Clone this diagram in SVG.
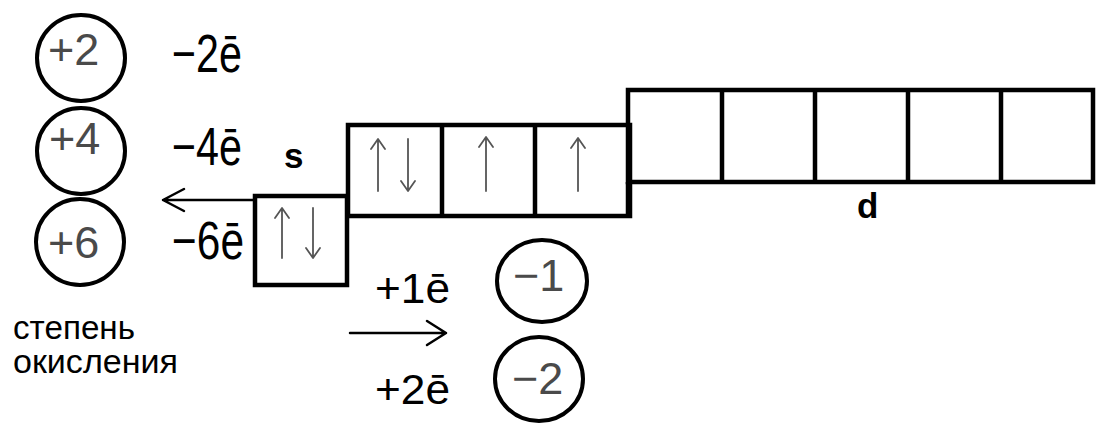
<svg xmlns="http://www.w3.org/2000/svg" width="1109" height="442" viewBox="0 0 1109 442">
<style>
.box{fill:none;stroke:#000;stroke-width:4.5;stroke-linejoin:miter}
.circ{fill:none;stroke:#000;stroke-width:4}
.ox{font-family:"Liberation Sans",Arial,sans-serif;font-size:45px;fill:#4a4a4a}
.el{font-family:"Liberation Sans",Arial,sans-serif;font-size:53px;fill:#000}
.el2{font-family:"Liberation Sans",Arial,sans-serif;font-size:43px;fill:#000}
.lab{font-family:"Liberation Sans",Arial,sans-serif;font-size:35px;font-weight:bold;fill:#000}
.cap{font-family:"Liberation Sans",Arial,sans-serif;font-size:33px;fill:#000}
.spin{fill:none;stroke:#555;stroke-width:1.8;stroke-linecap:round;stroke-linejoin:round}
.arr{fill:none;stroke:#000;stroke-width:2.5;stroke-linecap:round;stroke-linejoin:round}
</style>
<rect width="1109" height="442" fill="#fff"/>
<g id="ox-plus2"><ellipse class="circ" cx="81" cy="58" rx="44" ry="43"/><text class="ox" x="48" y="65">+2</text></g>
<g id="ox-plus4"><ellipse class="circ" cx="81" cy="151" rx="44" ry="43"/><text class="ox" x="49" y="154">+4</text></g>
<g id="ox-plus6"><ellipse class="circ" cx="80" cy="242" rx="44" ry="43"/><text class="ox" x="48" y="258">+6</text></g>
<g id="lbl-minus"><text class="el" x="172" y="72" textLength="70" lengthAdjust="spacingAndGlyphs">−2ē</text><text class="el" x="172" y="165" textLength="70" lengthAdjust="spacingAndGlyphs">−4ē</text><text class="el" x="172" y="259" textLength="72" lengthAdjust="spacingAndGlyphs">−6ē</text></g>
<g id="lbl-s"><text class="lab" x="284" y="168">s</text></g>
<g id="s-orbital"><rect class="box" x="255" y="196" width="92" height="89"/>
<path class="spin" d="M282 258V209M275 218L282 208L289 218M313 208V257M306 248L313 258L320 248"/></g>
<g id="p-orbitals"><rect class="box" x="348" y="125" width="282" height="91"/><path class="box" d="M442 125V216M535 125V216"/>
<path class="spin" d="M378 191V140M371 149L378 139L385 149M408 139V190M401 181L408 191L415 181M486 191V138M479 147L486 137L493 147M578 191V139M571 148L578 138L585 148"/></g>
<g id="d-orbitals"><rect class="box" x="628" y="90" width="465" height="92"/><path class="box" d="M722 90V182M815 90V182M908 90V182M1001 90V182M628 182V217"/></g>
<g id="lbl-d"><text class="lab" x="857" y="218">d</text></g>
<g id="connectors"><path class="arr" d="M253 200H163M184 189L163 200L184 211"/><path class="arr" d="M350 333H446M427 321L446 333L427 345"/></g>
<g id="lbl-plus"><text class="el2" x="375" y="303" textLength="75" lengthAdjust="spacingAndGlyphs">+1ē</text><text class="el2" x="375" y="404" textLength="75" lengthAdjust="spacingAndGlyphs">+2ē</text></g>
<g id="ox-minus1"><ellipse class="circ" cx="542" cy="281" rx="45" ry="41"/><text class="ox" x="513" y="291">−1</text></g>
<g id="ox-minus2"><ellipse class="circ" cx="539" cy="379" rx="44" ry="42"/><text class="ox" x="512" y="394">−2</text></g>
<g id="caption"><text class="cap" x="13" y="339" textLength="122" lengthAdjust="spacingAndGlyphs">степень</text><text class="cap" x="13" y="373" textLength="165" lengthAdjust="spacingAndGlyphs">окисления</text></g>
</svg>
